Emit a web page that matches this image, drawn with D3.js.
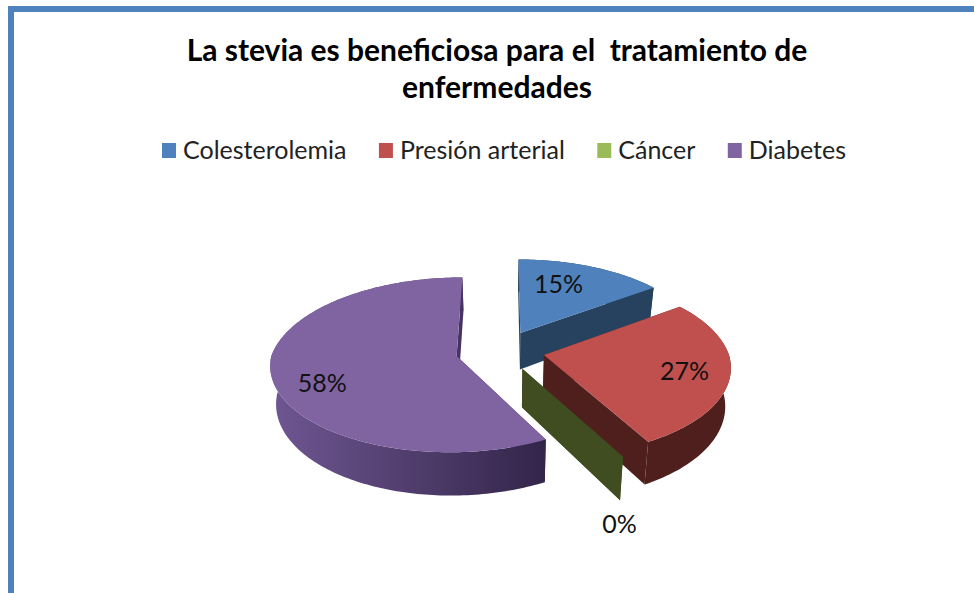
<!DOCTYPE html>
<html><head><meta charset="utf-8">
<script src="https://cdnjs.cloudflare.com/ajax/libs/d3/7.8.5/d3.min.js"></script>
<style>html,body{margin:0;padding:0;background:#fff;overflow:hidden}text{font-family:Lato,"Open Sans",sans-serif}</style>
</head><body><svg id="c" width="974" height="593"></svg>
<script>
const categories = ["Colesterolemia","Presión arterial","Cáncer","Diabetes"];
const values = [15,27,0,58];
const titleLines = ["La stevia es beneficiosa para el  tratamiento de","enfermedades"];
const topColors = ["#4f81bd","#c0504d","#9bbb59","#8064a2"];
const cutColors = ["#27425f","#4f1f1e","#3f4d21","#3a2a52"];

const svg = d3.select("#c");
svg.append("rect").attr("x",8).attr("y",6).attr("width",966).attr("height",6).attr("fill","#4f81bd");
svg.append("rect").attr("x",8).attr("y",6).attr("width",6).attr("height",587).attr("fill","#4f81bd");

svg.append("g").selectAll("text").data(titleLines).join("text")
  .attr("x",497).attr("y",(d,i)=>61+i*37).attr("text-anchor","middle")
  .attr("font-size",30).attr("font-weight",700).attr("fill","#000")
  .attr("xml:space","preserve").style("white-space","pre").text(d=>d);

let lx = 162;
const legend = svg.append("g");
categories.forEach((c,i)=>{
  legend.append("rect").attr("x",lx).attr("y",143).attr("width",14).attr("height",15).attr("fill",topColors[i]);
  const t = legend.append("text").attr("x",lx+21).attr("y",159).attr("font-size",25).attr("fill","#222").text(c);
  lx += 21 + t.node().getComputedTextLength() + 32.4;
});

// 3D pie geometry
const R=185, RK=89, P=0.135, CX=501.5, CZ=0.05, CY=355, VX=505, HEIGHT=37, SHRINK=0.975;
const explode=[0.23,0.235,0.23,0.25];
const frontPull=[0,0.02,0.05,0.06];
const pie = d3.pie().sort(null).value(d=>d)(values);
const s = z => 1/(1-P*(z-CZ));
const project = (x,z) => [VX+(CX-VX+R*x)*s(z), CY+RK*(z-CZ)*s(z)];
const lower = ([x,y],z) => [VX+(x-VX)*SHRINK, y+HEIGHT*s(z)*1.02];
const line = d3.line();

function sliceGeom(d,i){
  const mid=(d.startAngle+d.endAngle)/2;
  const ox=explode[i]*Math.sin(mid), oz=-explode[i]*Math.cos(mid);
  const at=(a,f=1)=>{
    const r=f*(1-frontPull[i]*Math.max(0,-Math.cos(a)));
    return [ox+r*Math.sin(a), oz-r*Math.cos(a)];
  };
  return {mid,ox,oz,at};
}
const angles=(a,b)=>{const n=Math.max(1,Math.ceil((b-a)/0.02));return d3.range(n+1).map(i=>a+(b-a)*i/n);};

const defs=svg.append("defs");
const grad=defs.append("linearGradient").attr("id","wallP").attr("gradientUnits","userSpaceOnUse")
  .attr("x1",270).attr("x2",545).attr("y1",0).attr("y2",0);
grad.append("stop").attr("offset",0).attr("stop-color","#6f5792");
grad.append("stop").attr("offset",1).attr("stop-color","#33254a");
const wallFill=i=> i===3?"url(#wallP)":cutColors[i];

const pieG=svg.append("g");
[0,3,1,2].forEach(i=>{
  const d=pie[i], g=sliceGeom(d,i), G=pieG.append("g");
  const apex=project(g.ox,g.oz), apexL=lower(apex,g.oz);
  const ptTop=a=>{const [x,z]=g.at(a);return project(x,z);};
  const ptLow=a=>{const [x,z]=g.at(a);return lower(project(x,z),z);};
  [d.startAngle,d.endAngle].forEach(a=>{
    G.append("path").attr("d",line([apex,ptTop(a),ptLow(a),apexL])+"Z").attr("fill",wallFill(i));
  });
  const arc=angles(d.startAngle,d.endAngle);
  if(d.endAngle>d.startAngle){
    G.append("path").attr("d",line(arc.map(ptTop).concat(arc.slice().reverse().map(ptLow)))+"Z").attr("fill",wallFill(i));
    G.append("path").attr("d",line([apex].concat(arc.map(ptTop)))+"Z").attr("fill",topColors[i]);
  }
});

// data labels
const labelFrac=[0.51,0.76,0.97,0.735], labelDrop=[-12,2,71,11];
pie.forEach((d,i)=>{
  const g=sliceGeom(d,i), [x,z]=g.at(g.mid,labelFrac[i]), [px,py]=project(x,z);
  svg.append("text").attr("x",px).attr("y",py+labelDrop[i]+8).attr("text-anchor","middle")
    .attr("font-size",25).attr("fill","#111").text(d3.format(".0f")(d.value)+"%");
});
</script></body></html>
